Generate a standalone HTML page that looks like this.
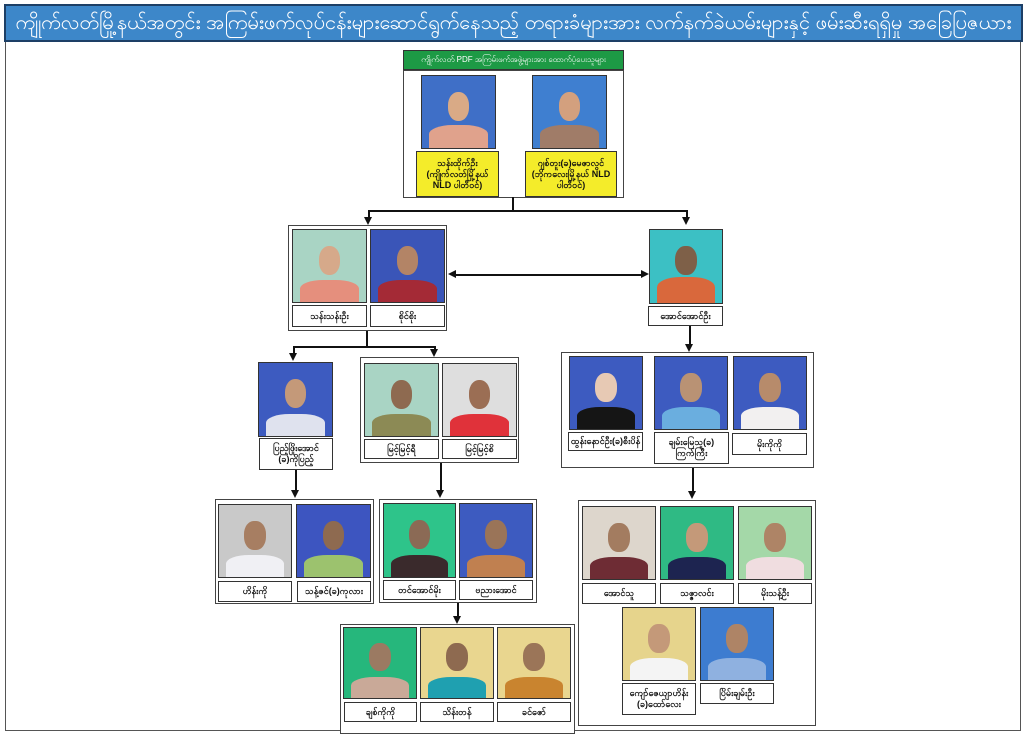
<!DOCTYPE html>
<html><head><meta charset="utf-8"><style>
*{margin:0;padding:0;box-sizing:border-box}
body{width:1027px;height:734px;background:#fff;position:relative;overflow:hidden;font-family:"Liberation Sans","Noto Sans CJK SC",sans-serif}
div{position:absolute}
.hdr{left:4px;top:4px;width:1019px;height:38px;background:#3d87c9;border:2px solid #1d3f66;color:#fff;font-size:20px;line-height:34px;text-align:center;white-space:nowrap;overflow:hidden}
.frame{left:5px;top:42px;width:1016px;height:689px;border:1px solid #555;border-top:none}
.box{border:1.5px solid #444;background:#fff}
.p{border:1.5px solid #333;overflow:hidden}
.p i{position:absolute;left:50%;top:22%;width:30%;height:40%;margin-left:-15%;border-radius:45%;background:#c9a07e}
.p b{position:absolute;left:10%;bottom:0;width:80%;height:30%;border-radius:40% 40% 0 0;background:#333}
.l{border:1.5px solid #333;background:#fff;font-size:9px;font-weight:bold;text-align:center;display:flex;align-items:center;justify-content:center;line-height:11px;color:#111}
.y{background:#f4ec2a}
.v{width:1.5px;background:#111}
.h{height:1.5px;background:#111}
.ad{width:0;height:0;border-left:4px solid transparent;border-right:4px solid transparent;border-top:8px solid #111}
</style></head><body>
<div class="hdr">ကျိုက်လတ်မြို့နယ်အတွင်း အကြမ်းဖက်လုပ်ငန်းများဆောင်ရွက်နေသည့် တရားခံများအား လက်နက်ခဲယမ်းများနှင့် ဖမ်းဆီးရရှိမှု အခြေပြဇယား</div>
<div class="frame"></div>

<div style="left:403px;top:50px;width:221px;height:20px;background:#1d9a45;border:1.5px solid #333;color:#fff;font-size:8px;line-height:17px;text-align:center;white-space:nowrap;overflow:hidden">ကျိုက်လတ် PDF အကြမ်းဖက်အဖွဲ့များအား ထောက်ပံ့ပေးသူများ</div>
<div class="box" style="left:403px;top:70px;width:221px;height:128px"></div>
<div class="p" style="left:421px;top:75px;width:75px;height:74px;background:#3f6fc7"><i style="background:#d9aa86"></i><b style="background:#e0a28c;height:32%"></b></div>
<div class="p" style="left:532px;top:75px;width:75px;height:74px;background:#3f7fd0"><i style="background:#d3a07e"></i><b style="background:#a07c68;height:32%"></b></div>
<div class="l y" style="left:416px;top:151px;width:83px;height:46px">သန်းထိုက်ဦး<br>(ကျိုက်လတ်မြို့နယ်<br>NLD ပါတီဝင်)</div>
<div class="l y" style="left:525px;top:151px;width:92px;height:46px">ဂျစ်တူး(ခ)မေဇာလွင်<br>(ဘိုကလေးမြို့နယ် NLD<br>ပါတီဝင်)</div>

<div class="v" style="left:512px;top:197px;height:14px"></div>
<div class="h" style="left:368px;top:210px;width:319px"></div>
<div class="v" style="left:368px;top:210px;height:8px"></div><div class="ad" style="left:364px;top:217px"></div>
<div class="v" style="left:686px;top:210px;height:8px"></div><div class="ad" style="left:682px;top:217px"></div>

<div class="box" style="left:288px;top:225px;width:159px;height:106px"></div>
<div class="p" style="left:292px;top:229px;width:75px;height:74px;background:#a9d4c4"><i style="background:#d6a98a"></i><b style="background:#e58f7d"></b></div>
<div class="p" style="left:370px;top:229px;width:75px;height:74px;background:#3a55b8"><i style="background:#b38466"></i><b style="background:#a42a36"></b></div>
<div class="l" style="left:292px;top:305px;width:75px;height:22px">သန်းသန်းဦး</div>
<div class="l" style="left:370px;top:305px;width:75px;height:22px">စိုင်စိုး</div>

<div class="h" style="left:452px;top:274px;width:190px"></div>
<div style="left:448px;top:270px;width:0;height:0;border-top:4px solid transparent;border-bottom:4px solid transparent;border-right:8px solid #111"></div>
<div style="left:641px;top:270px;width:0;height:0;border-top:4px solid transparent;border-bottom:4px solid transparent;border-left:8px solid #111"></div>

<div class="p" style="left:649px;top:229px;width:74px;height:75px;background:#3cc0c4"><i style="background:#7e6048"></i><b style="background:#d9683c;height:35%"></b></div>
<div class="l" style="left:648px;top:306px;width:75px;height:20px">အောင်အောင်ဦး</div>
<div class="v" style="left:689px;top:326px;height:20px"></div><div class="ad" style="left:685px;top:344px"></div>

<div class="box" style="left:561px;top:352px;width:253px;height:116px"></div>
<div class="p" style="left:569px;top:356px;width:74px;height:74px;background:#3d5bc0"><i style="background:#e7c9b4"></i><b style="background:#151515"></b></div>
<div class="p" style="left:654px;top:356px;width:74px;height:74px;background:#3d5bc0"><i style="background:#b99274"></i><b style="background:#6aaedf"></b></div>
<div class="p" style="left:733px;top:356px;width:74px;height:74px;background:#3d5bc0"><i style="background:#b78b6b"></i><b style="background:#f2f0f0"></b></div>
<div class="l" style="left:568px;top:432px;width:75px;height:19px">ထွန်းနောင်ဦး(ခ)စီးပိန်</div>
<div class="l" style="left:654px;top:432px;width:75px;height:32px">ချမ်းမြေသူ(ခ)<br>ကြက်ကြီး</div>
<div class="l" style="left:732px;top:433px;width:75px;height:22px">မိုးကိုကို</div>

<div class="v" style="left:366px;top:331px;height:16px"></div>
<div class="h" style="left:293px;top:346px;width:142px"></div>
<div class="v" style="left:293px;top:346px;height:8px"></div><div class="ad" style="left:289px;top:353px"></div>
<div class="v" style="left:434px;top:346px;height:4px"></div><div class="ad" style="left:430px;top:349px"></div>

<div class="p" style="left:258px;top:362px;width:75px;height:75px;background:#3d5bc0"><i style="background:#c49979"></i><b style="background:#dfe2ee"></b></div>
<div class="l" style="left:259px;top:438px;width:74px;height:32px">ပြည့်ဖြိုးအောင်<br>(ခ)ကိုပြည့်</div>

<div class="box" style="left:360px;top:357px;width:159px;height:106px"></div>
<div class="p" style="left:364px;top:363px;width:75px;height:74px;background:#a9d4c4"><i style="background:#8e6a50"></i><b style="background:#8c8a55"></b></div>
<div class="p" style="left:442px;top:363px;width:75px;height:74px;background:#dedede"><i style="background:#9b6e54"></i><b style="background:#e0323a"></b></div>
<div class="l" style="left:364px;top:439px;width:75px;height:20px">မြင့်မြင့်ရီ</div>
<div class="l" style="left:442px;top:439px;width:75px;height:20px">မြင့်မြင့်စိ</div>

<div class="v" style="left:295px;top:470px;height:22px"></div><div class="ad" style="left:291px;top:490px"></div>
<div class="v" style="left:440px;top:463px;height:28px"></div><div class="ad" style="left:436px;top:490px"></div>
<div class="v" style="left:692px;top:468px;height:24px"></div><div class="ad" style="left:688px;top:491px"></div>

<div class="box" style="left:215px;top:499px;width:159px;height:105px"></div>
<div class="p" style="left:218px;top:504px;width:74px;height:74px;background:#c9c9c9"><i style="background:#a77e62"></i><b style="background:#f0f0f4"></b></div>
<div class="p" style="left:296px;top:504px;width:75px;height:74px;background:#3d55c0"><i style="background:#8e6a50"></i><b style="background:#9cc26e"></b></div>
<div class="l" style="left:218px;top:581px;width:74px;height:21px">ဟိန်းကို</div>
<div class="l" style="left:297px;top:581px;width:74px;height:21px">သန့်ဇင်(ခ)ကုလား</div>

<div class="box" style="left:379px;top:499px;width:158px;height:104px"></div>
<div class="p" style="left:383px;top:503px;width:73px;height:75px;background:#2ec48a"><i style="background:#8b6a55"></i><b style="background:#3a2a2c"></b></div>
<div class="p" style="left:459px;top:503px;width:74px;height:75px;background:#3d5bc0"><i style="background:#9a7458"></i><b style="background:#c08050"></b></div>
<div class="l" style="left:383px;top:580px;width:73px;height:20px">တင်အောင်မိုး</div>
<div class="l" style="left:459px;top:580px;width:74px;height:20px">ဗညားအောင်</div>
<div class="v" style="left:457px;top:603px;height:14px"></div><div class="ad" style="left:453px;top:616px"></div>

<div class="box" style="left:340px;top:624px;width:235px;height:110px"></div>
<div class="p" style="left:343px;top:627px;width:74px;height:72px;background:#26b77c"><i style="background:#9b7a62"></i><b style="background:#c9a998"></b></div>
<div class="p" style="left:420px;top:627px;width:74px;height:72px;background:#e9d68f"><i style="background:#8e6a50"></i><b style="background:#1fa0b0"></b></div>
<div class="p" style="left:497px;top:627px;width:74px;height:72px;background:#e9d68f"><i style="background:#9b7558"></i><b style="background:#c9842f"></b></div>
<div class="l" style="left:344px;top:702px;width:73px;height:20px">ချစ်ကိုကို</div>
<div class="l" style="left:420px;top:702px;width:74px;height:20px">သိန်းတန်</div>
<div class="l" style="left:497px;top:702px;width:74px;height:20px">ခင်ဇော်</div>

<div class="box" style="left:578px;top:500px;width:238px;height:226px"></div>
<div class="p" style="left:582px;top:506px;width:74px;height:74px;background:#ddd6cc"><i style="background:#a37c60"></i><b style="background:#6e2c34"></b></div>
<div class="p" style="left:660px;top:506px;width:74px;height:74px;background:#2fba84"><i style="background:#c49979"></i><b style="background:#1d2450"></b></div>
<div class="p" style="left:738px;top:506px;width:74px;height:74px;background:#a4d8a8"><i style="background:#ae8466"></i><b style="background:#f0dde0"></b></div>
<div class="l" style="left:582px;top:583px;width:74px;height:21px">အောင်သူ</div>
<div class="l" style="left:660px;top:583px;width:74px;height:21px">သဇ္ဇာလင်း</div>
<div class="l" style="left:738px;top:583px;width:74px;height:21px">မိုးသန့်ဦး</div>
<div class="p" style="left:622px;top:607px;width:74px;height:74px;background:#e6d48c"><i style="background:#c49979"></i><b style="background:#f4f4f4"></b></div>
<div class="p" style="left:700px;top:607px;width:74px;height:74px;background:#3d7cd0"><i style="background:#ae8466"></i><b style="background:#8fb1e0"></b></div>
<div class="l" style="left:622px;top:683px;width:74px;height:32px">ကျော်ဇေယျာဟိန်း<br>(ခ)ထော်လေး</div>
<div class="l" style="left:700px;top:683px;width:74px;height:21px">ပြိမ်းချမ်းဦး</div>
</body></html>
